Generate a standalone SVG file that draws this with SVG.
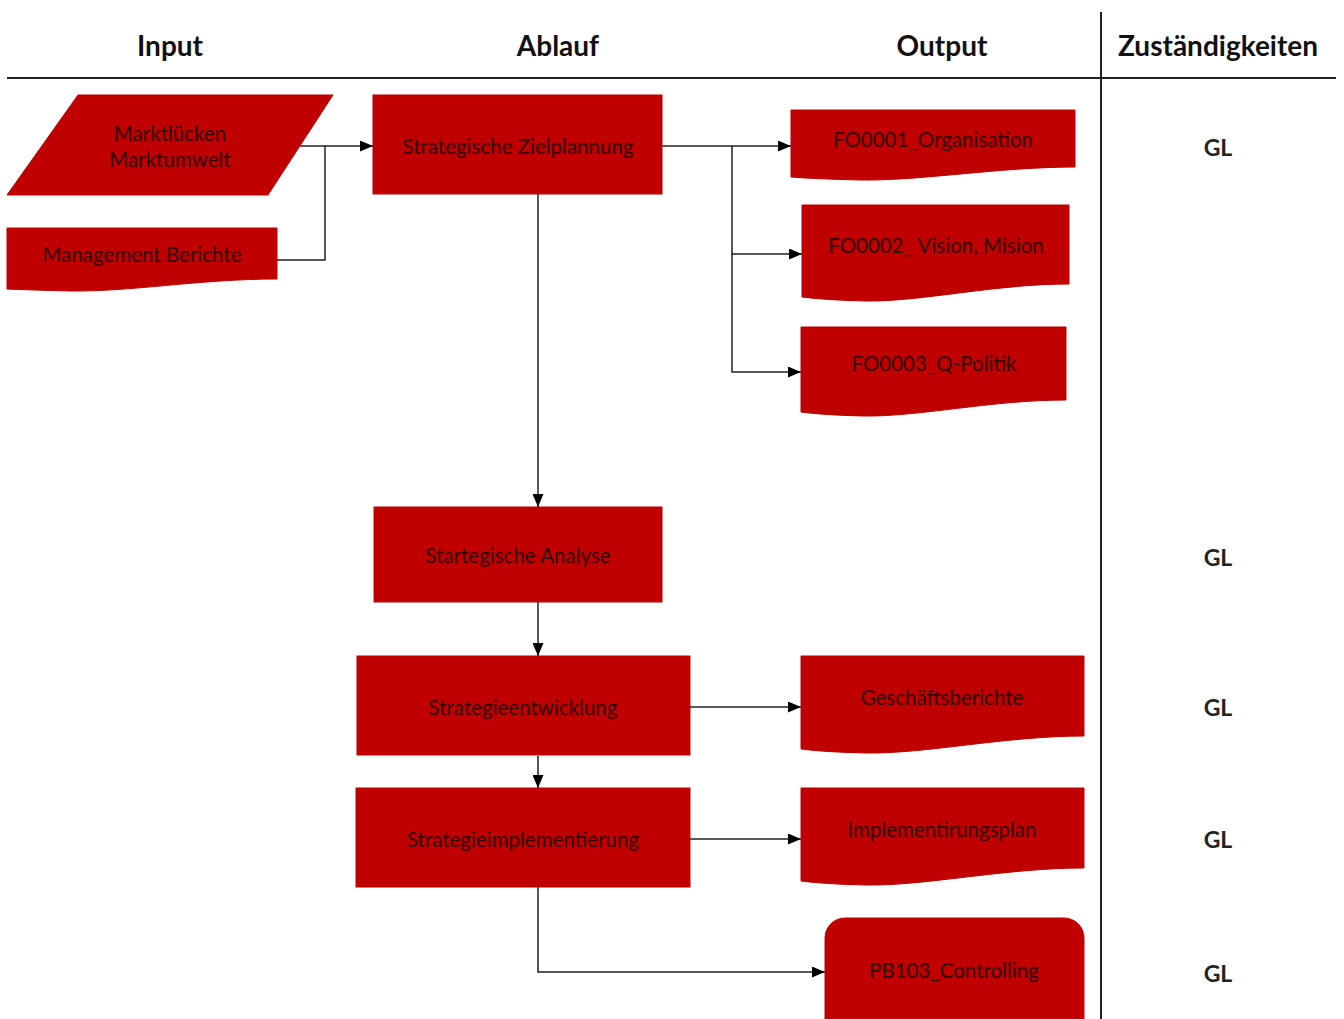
<svg xmlns="http://www.w3.org/2000/svg" width="1344" height="1019" viewBox="0 0 1344 1019">
  <defs>
    <marker id="arrow" markerWidth="13" markerHeight="11" refX="13" refY="5.5" orient="auto" markerUnits="userSpaceOnUse">
      <path d="M0,0 L13,5.5 L0,11 Z" fill="#000"/>
    </marker>
    <style>
      .shape { fill: #C00000; stroke: #C00000; stroke-width: 1; }
      .label { font-family: Lato, "Liberation Sans", sans-serif; font-size: 20.5px; fill: #300000; text-anchor: middle; dominant-baseline: central; }
      .head { font-family: Lato, "Liberation Sans", sans-serif; font-size: 28px; font-weight: bold; fill: #111; text-anchor: middle; }
      .role { font-family: Lato, "Liberation Sans", sans-serif; font-size: 23px; font-weight: bold; fill: #222; text-anchor: middle; dominant-baseline: central; }
      .rule { stroke: #222; stroke-width: 2; fill: none; }
      .conn { stroke: #222; stroke-width: 1.5; fill: none; }
    </style>
  </defs>
  <rect width="1344" height="1019" fill="#fff"/>

  <!-- table frame and column heads -->
  <g id="header">
    <line class="rule" x1="7" y1="78" x2="1336" y2="78"/>
    <line class="rule" x1="1101" y1="12" x2="1101" y2="1019"/>
    <text class="head" x="170" y="56">Input</text>
    <text class="head" x="558" y="56">Ablauf</text>
    <text class="head" x="942" y="56">Output</text>
    <text class="head" x="1218" y="56">Zuständigkeiten</text>
  </g>

  <!-- responsibilities -->
  <g id="roles">
    <text class="role" x="1218" y="147">GL</text>
    <text class="role" x="1218" y="557">GL</text>
    <text class="role" x="1218" y="707">GL</text>
    <text class="role" x="1218" y="839">GL</text>
    <text class="role" x="1218" y="973">GL</text>
  </g>

  <!-- connectors -->
  <g id="connectors">
    <polyline class="conn" points="300,146 373,146" marker-end="url(#arrow)"/>
    <polyline class="conn" points="277,260 325,260 325,146"/>
    <polyline class="conn" points="662,146 791,146" marker-end="url(#arrow)"/>
    <polyline class="conn" points="732,146 732,254 802,254" marker-end="url(#arrow)"/>
    <polyline class="conn" points="732,254 732,372 801,372" marker-end="url(#arrow)"/>
    <polyline class="conn" points="538,194 538,507" marker-end="url(#arrow)"/>
    <polyline class="conn" points="538,602 538,656" marker-end="url(#arrow)"/>
    <polyline class="conn" points="690,707 801,707" marker-end="url(#arrow)"/>
    <polyline class="conn" points="538,756 538,788" marker-end="url(#arrow)"/>
    <polyline class="conn" points="690,839 801,839" marker-end="url(#arrow)"/>
    <polyline class="conn" points="538,887 538,972 825,972" marker-end="url(#arrow)"/>
  </g>

  <!-- input nodes -->
  <g id="marktluecken">
    <polygon class="shape" points="78,95 333,95 268,195 7,195"/>
    <text class="label" x="170" y="133">Marktlücken</text>
    <text class="label" x="170" y="159">Marktumwelt</text>
  </g>
  <g id="management-berichte">
    <path class="shape" d="M7,228 H277 V279 C200,279 130,292 70,291 Q30,290 7,289 Z"/>
    <text class="label" x="142" y="254">Management Berichte</text>
  </g>

  <!-- process steps -->
  <g id="zielplanung">
    <rect class="shape" x="373" y="95" width="289" height="99"/>
    <text class="label" x="518" y="146">Strategische Zielplannung</text>
  </g>
  <g id="analyse">
    <rect class="shape" x="374" y="507" width="288" height="95"/>
    <text class="label" x="518" y="555">Startegische Analyse</text>
  </g>
  <g id="strategieentwicklung">
    <rect class="shape" x="357" y="656" width="333" height="99"/>
    <text class="label" x="523" y="707">Strategieentwicklung</text>
  </g>
  <g id="strategieimplementierung">
    <rect class="shape" x="356" y="788" width="334" height="99"/>
    <text class="label" x="523" y="839">Strategieimplementierung</text>
  </g>

  <!-- output documents -->
  <g id="fo0001">
    <path class="shape" d="M791,110 H1075 V167 C1000,167 920,181 860,180 Q815,179 791,177 Z"/>
    <text class="label" x="933" y="139">FO0001_Organisation</text>
  </g>
  <g id="fo0002">
    <path class="shape" d="M802,205 H1069 V284 C995,284 920,302 865,301 Q825,300 802,297 Z"/>
    <text class="label" x="936" y="245">FO0002_ Vision, Mision</text>
  </g>
  <g id="fo0003">
    <path class="shape" d="M801,327 H1066 V400 C992,400 918,417 863,416 Q823,415 801,412 Z"/>
    <text class="label" x="934" y="363">FO0003_Q-Politik</text>
  </g>
  <g id="geschaeftsberichte">
    <path class="shape" d="M801,656 H1084 V736 C1005,736 925,754 866,753 Q823,752 801,749 Z"/>
    <text class="label" x="942" y="697">Geschäftsberichte</text>
  </g>
  <g id="implementirungsplan">
    <path class="shape" d="M801,788 H1084 V868 C1005,868 925,886 866,885 Q823,884 801,881 Z"/>
    <text class="label" x="942" y="829">Implementirungsplan</text>
  </g>
  <g id="controlling">
    <rect class="shape" x="825" y="918" width="259" height="125" rx="20" ry="20"/>
    <text class="label" x="954" y="970">PB103_Controlling</text>
  </g>
</svg>
